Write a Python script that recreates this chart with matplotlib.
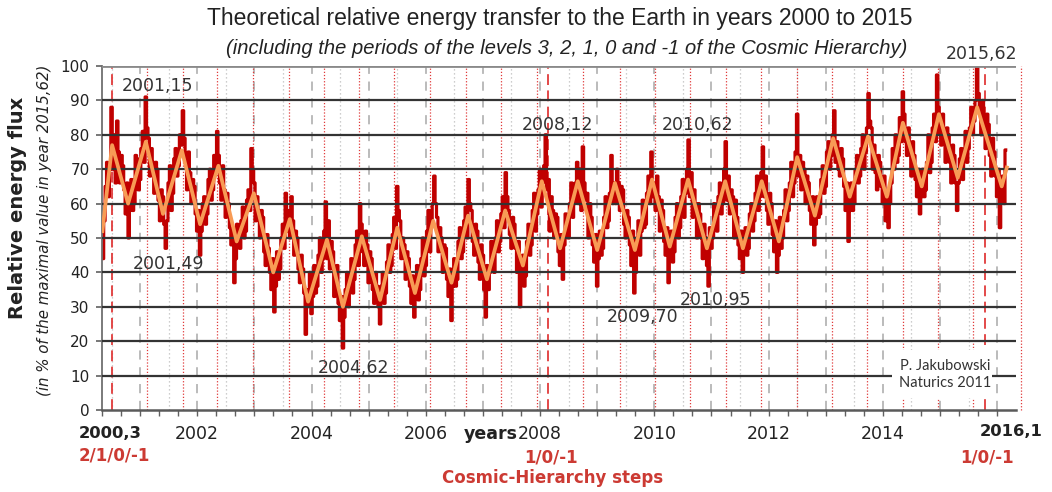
import numpy as np
import matplotlib
matplotlib.use("Agg")
import matplotlib.pyplot as plt
from matplotlib.patches import Rectangle

plt.rcParams['font.family'] = ['DejaVu Sans']

# ---------------- data ----------------
# smoothed curve: turning points (year, relative flux %)
smooth_years = [2000.34, 2000.51, 2000.79, 2001.10, 2001.40, 2001.73, 2002.05, 2002.37,
                2002.69, 2002.99, 2003.33, 2003.62, 2003.94, 2004.27, 2004.55, 2004.88,
                2005.20, 2005.50, 2005.81, 2006.13, 2006.45, 2006.74, 2007.07, 2007.39,
                2007.70, 2008.03, 2008.35, 2008.66, 2009.00, 2009.31, 2009.66, 2009.96,
                2010.27, 2010.59, 2010.92, 2011.24, 2011.55, 2011.88, 2012.18, 2012.50,
                2012.81, 2013.13, 2013.42, 2013.74, 2014.07, 2014.35, 2014.68, 2014.98,
                2015.31, 2015.65, 2016.08, 2016.17]
smooth_values = [52, 77, 60, 78, 57, 75.5, 54, 71,
                 49, 63, 40, 55.5, 31.5, 49.5, 30, 50.5,
                 32, 53, 34, 55, 37, 56.5, 38, 58,
                 42, 66.5, 47, 66.5, 46.5, 66, 46.5, 67,
                 47.5, 67, 47, 66.5, 47, 66.5, 49, 73.5,
                 56.5, 79, 62, 79.5, 62, 83.5, 65, 86,
                 67.5, 88, 65, 70.5]

# raw flux, sampled every 0.025 year from 2000.35
flux_start = 2000.35
flux_step = 0.025
flux_values = [
    44, 55, 65, 72, 62, 70, 88, 70, 80, 66, 84, 75, 66, 74, 71, 64, 57, 66, 50, 58,
    67, 58, 60, 74, 73, 64, 67, 76, 81, 72, 91, 82, 79, 68, 76, 72, 63, 72, 70, 61,
    55, 64, 62, 54, 47, 55, 66, 71, 58, 63, 73, 76, 68, 71, 80, 77, 87, 79, 72, 64,
    75, 69, 60, 67, 65, 57, 52, 58, 45, 52, 60, 62, 54, 57, 67, 70, 61, 64, 74, 70,
    81, 74, 66, 61, 71, 64, 56, 63, 60, 53, 48, 52, 37, 44, 54, 50, 47, 55, 59, 50,
    52, 61, 64, 58, 76, 70, 66, 55, 62, 58, 50, 58, 56, 46, 42, 51, 47, 40, 35, 44,
    28.5, 36, 46, 38, 41, 50, 54, 47, 63, 52, 58, 50, 62, 55, 45, 52, 50, 41, 37, 45,
    41, 34, 22, 30, 35, 40, 28, 33, 42, 34, 36, 45, 50, 40, 44, 52, 60.5, 44, 55, 41,
    49, 46, 33, 37, 42, 31, 26, 33, 18, 27, 35, 40, 30, 37, 44, 34, 38, 48, 52, 42,
    60, 54, 46, 42, 52, 48, 37, 46, 44, 35, 31, 40, 36, 30, 25, 36, 40, 31, 34, 43,
    48, 40, 42, 51, 56, 47, 65, 58, 55, 44, 50, 48, 38, 46, 44, 36, 31, 39, 27, 33,
    42, 32, 35, 44, 50, 39, 42, 52, 58, 46, 55, 60, 68, 60, 56, 46, 53, 50, 40, 48,
    47, 38, 33, 41, 26, 36, 44, 36, 38, 49, 53, 44, 46, 55, 59, 50, 67, 60, 58, 49,
    45, 54, 52, 43, 38, 48, 45, 35, 27, 42, 35, 40, 49, 44, 40, 50, 55, 46, 49, 57,
    62, 53, 69, 62, 58, 51, 47, 56, 54, 47, 40, 49, 30, 38, 45, 36, 39, 49, 54, 45,
    48, 58, 63, 52, 57, 64, 70, 59, 66, 71, 80, 64, 67, 52, 62, 58, 50, 57, 56, 46,
    42, 51, 38, 48, 57, 52, 50, 60, 66, 56, 60, 66, 72, 60, 70, 58, 76.5, 66, 61, 63,
    50, 60, 56, 48, 43, 51, 36, 44, 52, 45, 47, 56, 62, 53, 55, 63, 74, 60, 66, 60,
    70, 66, 58, 65, 64, 54, 50, 58, 56, 48, 42, 52, 34, 40, 50, 55, 45, 52, 61, 53,
    54, 63, 68, 60, 75, 62, 66, 58, 68, 62, 52, 61, 58, 49, 45, 53, 37, 44, 52, 43,
    46, 56, 60, 50, 53, 62, 67, 56, 63, 70, 78.5, 62, 69, 56, 64, 60, 50, 60, 57, 50,
    44, 54, 50, 42, 36, 53, 47, 50, 60, 54, 52, 62, 66, 57, 60, 70, 78, 61, 68, 57,
    64, 62, 50, 61, 56, 48, 44, 52, 40, 46, 53, 45, 47, 57, 60, 52, 55, 63, 68, 58,
    62, 69, 76.5, 62, 68, 58, 54, 63, 60, 51, 46, 55, 40, 45, 56, 47, 50, 58, 64, 55,
    58, 66, 72, 62, 66, 75, 86, 68, 74, 64, 72, 70, 60, 68, 66, 58, 54, 62, 48, 54,
    62, 56, 57, 67, 71, 63, 65, 75, 78, 70, 74, 80, 87, 72, 78, 70, 68, 76, 73, 65,
    58, 66, 49, 58, 66, 58, 60, 70, 74, 66, 68, 76, 80, 70, 75, 82, 92, 84, 82, 70,
    77, 69, 64, 74, 72, 65, 60, 68, 55, 62, 53, 60, 66, 76, 70, 80, 72, 74, 85, 78,
    92.5, 86, 78, 74, 82, 76, 68, 78, 74, 67, 62, 70, 57, 62, 70, 62, 64, 72, 80, 69,
    72, 82, 86, 78, 97.4, 88, 80, 77, 86, 80, 72, 82, 80, 72, 66, 77, 74, 66, 58, 66,
    73, 76, 67, 73, 81, 72, 76, 82, 88, 80, 84, 90, 100, 92, 86, 80, 90, 82, 76, 86,
    83, 74, 68, 79, 75, 68, 62, 70, 53, 62, 68, 60, 75.6]
flux_years = flux_start + flux_step * np.arange(len(flux_values))

# vertical markers
year_marks = list(range(2001, 2017))
half_year_marks = [y + 0.5 for y in range(2000, 2016)]
period_marks = [2001.115, 2001.745, 2002.345, 2002.975, 2003.605, 2004.22, 2004.83,
                2005.44, 2006.07, 2006.70, 2007.32, 2007.95, 2008.75, 2009.40, 2010.01,
                2010.62, 2011.25, 2011.87, 2012.50, 2013.11, 2013.72, 2014.35, 2014.96,
                2015.58]
period_mark_outside = 2016.42
step_years = [2000.50, 2008.14, 2015.79]

# labelled extremes (text, year, level)
extreme_labels = [("2001,15", 2001.30, 94.2), ("2001,49", 2001.50, 42.4),
                  ("2004,62", 2004.73, 12.2), ("2008,12", 2008.30, 82.8),
                  ("2010,62", 2010.75, 82.8), ("2009,70", 2009.80, 27.0),
                  ("2010,95", 2011.08, 32.0), ("2015,62", 2015.73, 103.5)]

x_tick_years = [2002, 2004, 2006, 2008, 2010, 2012, 2014]
y_ticks = list(range(0, 101, 10))

# ---------------- figure ----------------
W, H = 1052, 492
fig = plt.figure(figsize=(W / 100, H / 100), dpi=100)
ax = fig.add_axes([102 / W, 82 / H, 914 / W, 344 / H])
ax.set_xlim(2000.333, 2016.33)
ax.set_ylim(0, 100)

red = '#E03A3A'
for x in year_marks:
    ax.axvline(x, color='#A8A8A8', lw=1.1, ls=(0, (6, 5)), zorder=1)
for x in half_year_marks:
    ax.axvline(x, color='#BDBDBD', lw=0.9, ls=(0, (1, 2.2)), zorder=1)
for x in period_marks:
    ax.axvline(x, color=red, lw=0.9, ls=(0, (1, 1.5)), zorder=1)
ax.plot([period_mark_outside] * 2, [0, 100], color=red, lw=0.9,
        ls=(0, (1, 1.5)), clip_on=False, zorder=1)
for x in step_years:
    ax.axvline(x, color=red, lw=1.3, ls=(0, (6, 3)), zorder=1.5)

ax.plot(flux_years, flux_values, color='#C00000', lw=2.3, zorder=2,
        drawstyle='steps-mid')

for y in y_ticks[1:]:
    ax.axhline(y, color='#8A8A8A' if y == 100 else '#333333',
               lw=2.0 if y == 100 else 1.6, zorder=3)

ax.plot(smooth_years, smooth_values, color='#F89B55', lw=2.7, zorder=4)

for text, xv, yv in extreme_labels:
    ax.text(xv, yv, text, fontsize=12.5, color='#333333', ha='center',
            va='center', zorder=6, clip_on=False)

# author box
ax.add_patch(Rectangle((2014.16, 3.5), 1.75, 14.0, facecolor='white',
                       edgecolor='none', zorder=5))
ax.text(2015.09, 10.3, "P. Jakubowski\nNaturics 2011", fontsize=10.5,
        family=['Lato', 'DejaVu Sans'], color='#333333', ha='center',
        va='center', linespacing=1.3, zorder=6)

for s in ['top', 'right']:
    ax.spines[s].set_visible(False)
ax.spines['left'].set_color('#707070')
ax.spines['left'].set_linewidth(1.3)
ax.spines['bottom'].set_color('#5A5A5A')
ax.spines['bottom'].set_linewidth(1.8)
ax.spines['bottom'].set_zorder(3)

ax.set_yticks(y_ticks)
ax.tick_params(axis='y', direction='out', length=4, width=1.2, color='#606060',
               labelsize=11, labelcolor='#222222', pad=5)
ax.set_xticks(x_tick_years)
ax.set_xticks(np.arange(2000 + 1 / 3, 2016.3, 1 / 3), minor=True)
ax.tick_params(axis='x', which='both', direction='out', length=4, width=1.0,
               color='#606060', labelsize=12.5, labelcolor='#222222', pad=7)

# titles
fig.text(560 / W, 1 - 18 / H,
         "Theoretical relative energy transfer to the Earth in years 2000 to 2015",
         family=['Liberation Sans'], fontsize=16.5,
         color='#222222', ha='center', va='center')
fig.text(567 / W, 1 - 48 / H,
         "(including the periods of the levels 3, 2, 1, 0 and -1 of the Cosmic Hierarchy)",
         family=['Liberation Sans'], fontsize=14.5,
         style='italic', color='#222222', ha='center', va='center')

# axis titles
fig.text(18 / W, 1 - 208 / H, "Relative energy flux", rotation=90, fontsize=14,
         fontweight='bold', color='#222222', ha='center', va='center')
fig.text(45 / W, 1 - 230 / H, "(in % of the maximal value in year 2015,62)",
         rotation=90, fontsize=10.8, style='italic', color='#222222',
         ha='center', va='center')

# bottom annotations
fig.text(110 / W, 1 - 433 / H, "2000,3", fontsize=11.8, fontweight='bold',
         color='#222222', ha='center', va='center')
fig.text(1011 / W, 1 - 432 / H, "2016,1", fontsize=11.8, fontweight='bold',
         color='#222222', ha='center', va='center')
fig.text(491 / W, 1 - 434 / H, "years", fontsize=12.5, fontweight='bold',
         color='#222222', ha='center', va='center')
step_red = '#CC3A33'
fig.text(114 / W, 1 - 455 / H, "2/1/0/-1", fontsize=12, fontweight='bold',
         color=step_red, ha='center', va='center')
fig.text(551 / W, 1 - 457 / H, "1/0/-1", fontsize=12, fontweight='bold',
         color=step_red, ha='center', va='center')
fig.text(987 / W, 1 - 457 / H, "1/0/-1", fontsize=12, fontweight='bold',
         color=step_red, ha='center', va='center')
fig.text(553 / W, 1 - 478 / H, "Cosmic-Hierarchy steps", fontsize=12,
         fontweight='bold', color=step_red, ha='center', va='center')

fig.savefig("out.png", dpi=100, facecolor='white')
